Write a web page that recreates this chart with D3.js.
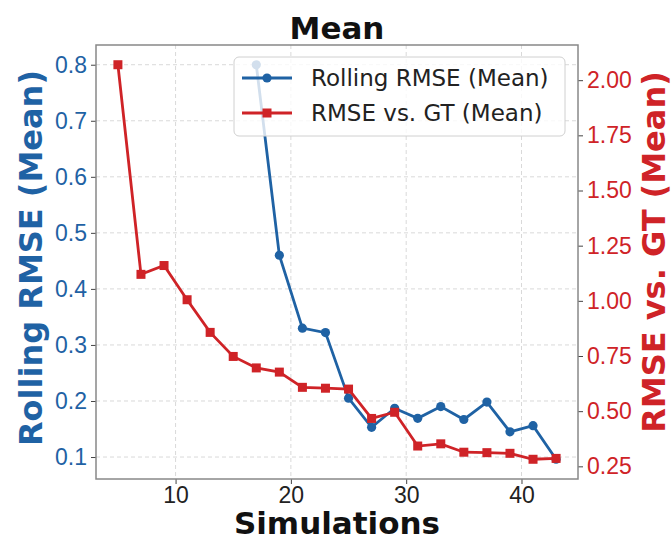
<!DOCTYPE html>
<html>
<head>
<meta charset="utf-8">
<script src="https://cdn.jsdelivr.net/npm/d3@7"></script>
<style>
  body { margin: 0; background: #fff; }
  svg { display: block; font-family: "DejaVu Sans", sans-serif; }
</style>
</head>
<body>
<div id="chart"></div>
<script>
// --- data ---
const rollingSims = [17, 19, 21, 23, 25, 27, 29, 31, 33, 35, 37, 39, 41, 43];
const rollingRmse = [0.80, 0.46, 0.33, 0.322, 0.205, 0.153, 0.187, 0.169, 0.19, 0.167, 0.198, 0.145, 0.156, 0.096];

const gtSims = [5, 7, 9, 11, 13, 15, 17, 19, 21, 23, 25, 27, 29, 31, 33, 35, 37, 39, 41, 43];
const gtRmse = [2.07, 1.12, 1.16, 1.005, 0.857, 0.748, 0.696, 0.677, 0.608, 0.604, 0.60, 0.467, 0.495, 0.342, 0.352, 0.314, 0.312, 0.309, 0.282, 0.286];

const xTicks = [10, 20, 30, 40];
const leftTicks = [0.1, 0.2, 0.3, 0.4, 0.5, 0.6, 0.7, 0.8];
const rightTicks = [0.25, 0.5, 0.75, 1.0, 1.25, 1.5, 1.75, 2.0];

const legendLabels = ["Rolling RMSE (Mean)", "RMSE vs. GT (Mean)"];

//--- formatting ---//
const W = 672, H = 541;
const plot = { left: 96, right: 578, top: 45, bottom: 479 };
const blue = "#1f62a4";
const red = "#cf2327";
const tickFont = 23;
const labelFont = 32;

// matplotlib-like 5% autoscale padding
function padded(vals) {
  const [a, b] = d3.extent(vals);
  const m = (b - a) * 0.05;
  return [a - m, b + m];
}

const x = d3.scaleLinear().domain(padded(gtSims.concat(rollingSims))).range([plot.left, plot.right]);
const yL = d3.scaleLinear().domain(padded(rollingRmse)).range([plot.bottom, plot.top]);
const yR = d3.scaleLinear().domain(padded(gtRmse)).range([plot.bottom, plot.top]);

const svg = d3.select("#chart").append("svg").attr("width", W).attr("height", H);

// grid
const grid = svg.append("g").attr("class", "grid");
grid.selectAll(".gx").data(xTicks).enter().append("line")
  .attr("x1", d => x(d)).attr("x2", d => x(d))
  .attr("y1", plot.top).attr("y2", plot.bottom);
grid.selectAll(".gy").data(leftTicks).enter().append("line")
  .attr("x1", plot.left).attr("x2", plot.right)
  .attr("y1", d => yL(d)).attr("y2", d => yL(d));
grid.selectAll("line")
  .attr("stroke", "#d9d9d9").attr("stroke-width", 1).attr("stroke-dasharray", "4,3");

// axes
const xAxis = svg.append("g")
  .attr("transform", "translate(0," + plot.bottom + ")")
  .call(d3.axisBottom(x).tickValues(xTicks).tickSize(5).tickPadding(3).tickFormat(d3.format("d")));
xAxis.selectAll("text").style("font-size", tickFont + "px").attr("fill", "#222");

const leftAxis = svg.append("g")
  .attr("transform", "translate(" + plot.left + ",0)")
  .call(d3.axisLeft(yL).tickValues(leftTicks).tickSize(5).tickPadding(4).tickFormat(d3.format(".1f")));
leftAxis.selectAll("text").style("font-size", tickFont + "px").attr("fill", blue);

const rightAxis = svg.append("g")
  .attr("transform", "translate(" + plot.right + ",0)")
  .call(d3.axisRight(yR).tickValues(rightTicks).tickSize(5).tickPadding(4).tickFormat(d3.format(".2f")));
rightAxis.selectAll("text").style("font-size", tickFont + "px").attr("fill", red);

svg.selectAll(".domain").remove();
svg.selectAll(".tick line").attr("stroke", "#444").attr("stroke-width", 1);

// frame
svg.append("rect")
  .attr("x", plot.left).attr("y", plot.top)
  .attr("width", plot.right - plot.left).attr("height", plot.bottom - plot.top)
  .attr("fill", "none").attr("stroke", "#888").attr("stroke-width", 1.5);

// lines
const blueLine = d3.line().x(d => x(d[0])).y(d => yL(d[1]));
const redLine = d3.line().x(d => x(d[0])).y(d => yR(d[1]));
const blueData = d3.zip(rollingSims, rollingRmse);
const redData = d3.zip(gtSims, gtRmse);

svg.append("path").datum(blueData)
  .attr("fill", "none").attr("stroke", blue).attr("stroke-width", 2.8)
  .attr("d", blueLine);
svg.selectAll(".bdot").data(blueData).enter().append("circle")
  .attr("cx", d => x(d[0])).attr("cy", d => yL(d[1])).attr("r", 4.6)
  .attr("fill", blue);

svg.append("path").datum(redData)
  .attr("fill", "none").attr("stroke", red).attr("stroke-width", 2.8)
  .attr("d", redLine);
svg.selectAll(".rdot").data(redData).enter().append("rect")
  .attr("x", d => x(d[0]) - 4.5).attr("y", d => yR(d[1]) - 4.5)
  .attr("width", 9).attr("height", 9)
  .attr("fill", red);

// legend
const lg = svg.append("g").attr("transform", "translate(234,57)");
lg.append("rect")
  .attr("width", 331).attr("height", 79).attr("rx", 5)
  .attr("fill", "#fff").attr("fill-opacity", 0.8)
  .attr("stroke", "#d0d0d0").attr("stroke-width", 1);
const rows = lg.selectAll(".row").data(legendLabels).enter().append("g")
  .attr("transform", (d, i) => "translate(0," + (21 + i * 35) + ")");
rows.append("line").attr("x1", 8).attr("x2", 58)
  .attr("stroke", (d, i) => i === 0 ? blue : red).attr("stroke-width", 2.8);
rows.filter((d, i) => i === 0).append("circle").attr("cx", 33).attr("r", 4.6).attr("fill", blue);
rows.filter((d, i) => i === 1).append("rect").attr("x", 28.5).attr("y", -4.5)
  .attr("width", 9).attr("height", 9).attr("fill", red);
rows.append("text").attr("x", 77).attr("dy", "0.36em")
  .style("font-size", tickFont + "px").attr("fill", "#222").text(d => d);

// title and axis labels
svg.append("text").attr("x", (plot.left + plot.right) / 2).attr("y", 39)
  .attr("text-anchor", "middle").style("font-size", "31px").style("font-weight", "bold")
  .attr("fill", "#111").text("Mean");

svg.append("text").attr("x", (plot.left + plot.right) / 2).attr("y", 534)
  .attr("text-anchor", "middle").style("font-size", "31px").style("font-weight", "bold")
  .attr("fill", "#111").text("Simulations");

svg.append("text")
  .attr("transform", "translate(42," + 258 + ") rotate(-90)")
  .attr("text-anchor", "middle").style("font-size", labelFont + "px").style("font-weight", "bold")
  .attr("fill", blue).text("Rolling RMSE (Mean)");

svg.append("text")
  .attr("transform", "translate(665," + 252 + ") rotate(-90)")
  .attr("text-anchor", "middle").style("font-size", labelFont + "px").style("font-weight", "bold")
  .attr("fill", red).text("RMSE vs. GT (Mean)");
</script>
</body>
</html>
